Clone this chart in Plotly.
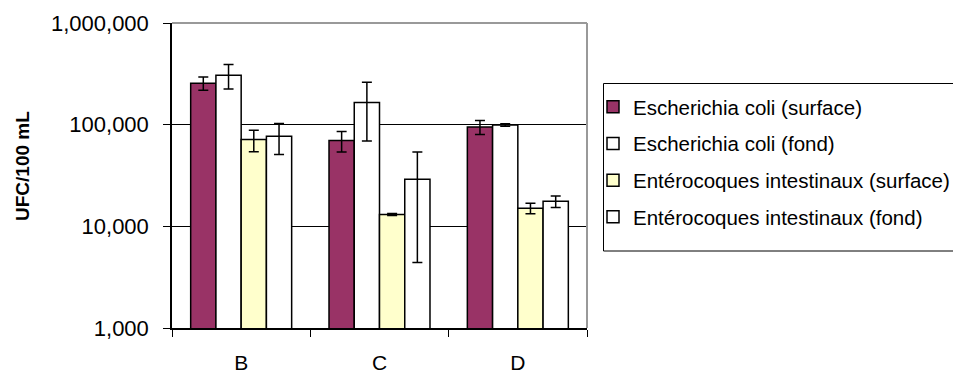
import plotly.graph_objects as go

categories = ["B", "C", "D"]
series_names = [
    "Escherichia coli (surface)",
    "Escherichia coli (fond)",
    "Entérocoques intestinaux (surface)",
    "Entérocoques intestinaux (fond)",
]
ecoli_surface = [256000, 69700, 95000]
ecoli_surface_err = [38000, 16000, 15000]
ecoli_fond = [307000, 165000, 99300]
ecoli_fond_err = [83000, 96000, 3000]
entero_surface = [71300, 13100, 15100]
entero_surface_err = [17000, 300, 1800]
entero_fond = [76800, 29100, 17600]
entero_fond_err = [26000, 24700, 2300]
tick_vals = [1000, 10000, 100000, 1000000]
tick_text = ["1,000", "10,000", "100,000", "1,000,000"]

values = [ecoli_surface, ecoli_fond, entero_surface, entero_fond]
errors = [ecoli_surface_err, ecoli_fond_err, entero_surface_err, entero_fond_err]
colors = ["#993366", "#FFFFFF", "#FFFFCC", "#FFFFFF"]

FONT = "Liberation Sans, Arial, sans-serif"

fig = go.Figure()
for i, (name, vals, errs, col) in enumerate(zip(series_names, values, errors, colors)):
    fig.add_trace(go.Bar(
        x=categories, y=vals, name=name,
        marker=dict(color=col, line=dict(color="black", width=1.5)),
        error_y=dict(type="data", array=errs, visible=True, color="black",
                     thickness=1.5, width=5),
        legendgroup=f"g{i}",
    ))

W, H = 953, 373
L, R, T, B = 172, 366, 23, 45
PW, PH = W - L - R, H - T - B


def px_x(x):
    return (x - L) / PW


def px_y(y):
    return (H - B - y) / PH


fig.update_layout(
    width=W, height=H,
    margin=dict(l=L, r=R, t=T, b=B, autoexpand=False),
    paper_bgcolor="white", plot_bgcolor="white",
    barmode="group", bargap=0.27, bargroupgap=0,
    font=dict(family=FONT, color="black", size=21),
    showlegend=True,
    legend=dict(
        x=px_x(593), y=px_y(87),
        xanchor="left", yanchor="top",
        borderwidth=0, bgcolor="rgba(0,0,0,0)",
        font=dict(family=FONT, size=20.5, color="black"),
        tracegroupgap=7,
    ),
    xaxis=dict(
        showline=True, linecolor="black", linewidth=1.5,
        ticks="outside", tickson="boundaries", ticklen=7, tickcolor="black",
        tickfont=dict(size=21), showgrid=False, ticklabelstandoff=15,
    ),
    yaxis=dict(
        type="log", range=[3, 6],
        tickvals=tick_vals, ticktext=tick_text,
        showline=True, linecolor="black", linewidth=1.5,
        ticks="outside", ticklen=7, tickcolor="black",
        tickfont=dict(size=22), ticklabelstandoff=10,
        showgrid=True, gridcolor="black", gridwidth=1,
        zeroline=False,
    ),
    shapes=[
        dict(type="line", xref="paper", yref="paper", x0=0, x1=1, y0=1, y1=1,
             line=dict(color="#999999", width=2)),
        dict(type="line", xref="paper", yref="paper", x0=1, x1=1, y0=0, y1=1,
             line=dict(color="#999999", width=2)),
        dict(type="rect", xref="paper", yref="paper",
             x0=px_x(603.5), x1=px_x(1000), y0=px_y(251), y1=px_y(83.5),
             line=dict(color="black", width=1), layer="below"),
    ],
    annotations=[
        dict(text="<b>UFC/100 mL</b>", textangle=-90, showarrow=False,
             xref="paper", yref="paper",
             x=px_x(22), y=px_y(166),
             xanchor="center", yanchor="middle",
             font=dict(family=FONT, size=19, color="black")),
    ],
)

fig.write_html("out.html",
               config={"displayModeBar": False},
               post_script="document.body.style.margin='0';document.body.style.padding='0';")
